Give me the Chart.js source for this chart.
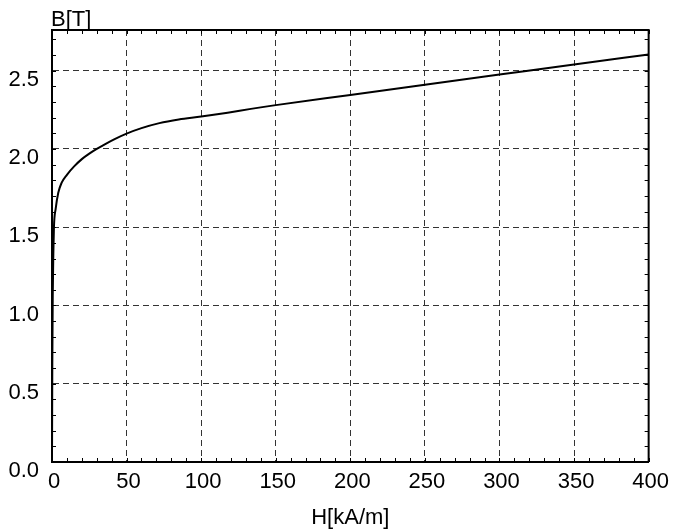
<!DOCTYPE html>
<html>
<head>
<meta charset="utf-8">
<script src="https://cdn.jsdelivr.net/npm/chart.js@4.4.1/dist/chart.umd.min.js"></script>
<style>
  html, body { margin: 0; padding: 0; background: #fff; }
  #wrap { width: 674px; height: 532px; }
</style>
</head>
<body>
<div id="wrap"><canvas id="bhChart" width="674" height="532"></canvas></div>
<script>
// кривая намагничивания B(H)
const hValues = [0, 0.2, 0.5, 0.9, 1.3, 2.5, 4.2, 6.5, 10, 15, 20, 25, 30, 36, 42, 50, 60, 72, 85, 100, 150, 200, 250, 300, 350, 400];
const bValues = [0, 0.6, 1.06, 1.33, 1.5, 1.62, 1.72, 1.785, 1.835, 1.89, 1.935, 1.97, 2.0, 2.033, 2.063, 2.098, 2.133, 2.165, 2.188, 2.207, 2.28, 2.345, 2.41, 2.475, 2.54, 2.604];

const xTicks = [0, 50, 100, 150, 200, 250, 300, 350, 400];
const yTicks = [0, 0.5, 1.0, 1.5, 2.0, 2.5];

const FONT = "'Liberation Sans', Arial, sans-serif";

// мелкие засечки внутрь по всем четырём сторонам + подпись B[T]
const framePlugin = {
  id: 'frame',
  afterDraw(chart) {
    const { ctx, chartArea: a } = chart;
    const xs = chart.scales.x, ys = chart.scales.y;
    ctx.save();
    ctx.strokeStyle = '#000';
    ctx.lineWidth = 1;
    ctx.beginPath();
    for (let v = 0; v <= 400; v += 10) {
      const px = Math.round(xs.getPixelForValue(v)) + 0.5;
      ctx.moveTo(px, a.bottom); ctx.lineTo(px, a.bottom - 4);
      ctx.moveTo(px, a.top); ctx.lineTo(px, a.top + 4);
    }
    for (let i = 0; i <= 27; i++) {
      const py = Math.round(ys.getPixelForValue(i / 10)) + 0.5;
      ctx.moveTo(a.left, py); ctx.lineTo(a.left + 4, py);
      ctx.moveTo(a.right, py); ctx.lineTo(a.right - 4, py);
    }
    ctx.stroke();
    // рамка сверху и справа
    ctx.lineWidth = 2;
    ctx.beginPath();
    ctx.moveTo(a.left, a.top); ctx.lineTo(a.right, a.top); ctx.lineTo(a.right, a.bottom);
    ctx.stroke();
    ctx.fillStyle = '#000';
    ctx.font = '22px ' + FONT;
    ctx.textBaseline = 'alphabetic';
    ctx.textAlign = 'left';
    ctx.fillText('B[T]', a.left - 1, a.top - 4);
    ctx.restore();
  }
};

const ctx = document.getElementById('bhChart').getContext('2d');
const chart = new Chart(ctx, {
  type: 'line',
  data: {
    datasets: [{
      data: hValues.map((h, i) => ({ x: h, y: bValues[i] })),
      borderColor: '#000',
      borderWidth: 2,
      pointRadius: 0,
      fill: false,
      cubicInterpolationMode: 'monotone'
    }]
  },
  options: {
    responsive: false,
    animation: false,
    layout: { padding: { left: 0, right: 24, top: 30, bottom: 0 } },
    plugins: { legend: { display: false }, tooltip: { enabled: false } },
    scales: {
      x: {
        type: 'linear',
        min: 0,
        max: 400,
        afterBuildTicks: s => { s.ticks = xTicks.map(v => ({ value: v })); },
        afterFit: s => { s.height = 70; },
        border: { color: '#000', width: 2, dash: [6, 4] },
        grid: { color: '#333', lineWidth: 1, drawTicks: false },
        ticks: {
          color: '#000',
          font: { family: FONT, size: 22 },
          padding: 7,
          labelOffset: 2,
          maxRotation: 0,
          autoSkip: false
        },
        title: {
          display: true,
          text: 'H[kA/m]',
          color: '#000',
          font: { family: FONT, size: 22 },
          padding: { top: 7, bottom: 1 }
        }
      },
      y: {
        type: 'linear',
        min: 0,
        max: 2.76,
        afterBuildTicks: s => { s.ticks = yTicks.map(v => ({ value: v })); },
        afterFit: s => { s.width = 52; },
        border: { color: '#000', width: 2, dash: [6, 4] },
        grid: { color: '#333', lineWidth: 1, drawTicks: false },
        ticks: {
          color: '#000',
          font: { family: FONT, size: 22 },
          padding: 13,
          labelOffset: 9,
          callback: v => Number(v).toFixed(1)
        }
      }
    }
  },
  plugins: [framePlugin]
});
</script>
</body>
</html>
